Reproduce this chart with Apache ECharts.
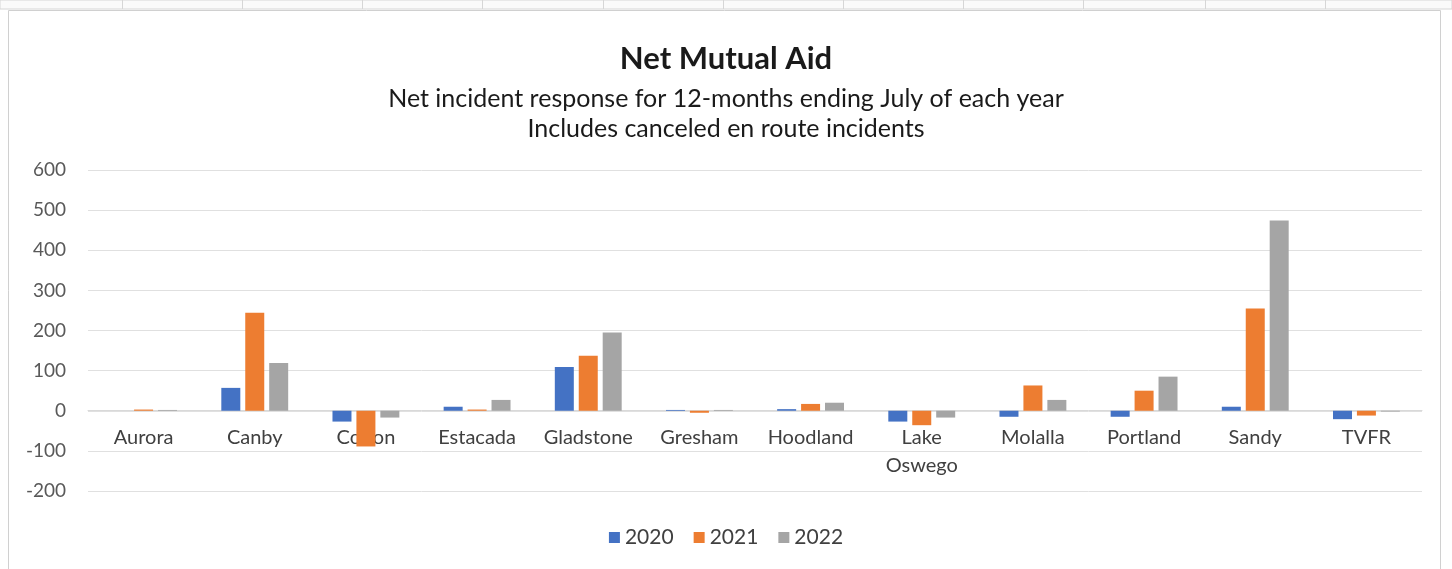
<!DOCTYPE html>
<html>
<head>
<meta charset="utf-8">
<script src="https://cdn.jsdelivr.net/npm/echarts@6/dist/echarts.min.js"></script>
<style>
	html, body { margin: 0; padding: 0; background: #fff; }
	#chart { width: 1452px; height: 569px; }
</style>
</head>
<body>
<div id="chart"></div>
<script>
const departments = [ 'Aurora', 'Canby', 'Colton', 'Estacada', 'Gladstone', 'Gresham',
	'Hoodland', 'Lake\nOswego', 'Molalla', 'Portland', 'Sandy', 'TVFR' ]
const years = [ '2020', '2021', '2022' ]
const net2020 = [ 0, 57, -27, 10, 109, 2, 4, -27, -15, -15, 10, -21 ]
const net2021 = [ 3, 244, -89, 3, 137, -5, 17, -36, 63, 50, 255, -12 ]
const net2022 = [ 2, 119, -17, 27, 195, 2, 20, -17, 27, 85, 474, -2 ]
const colors = [ '#4472C4', '#ED7D31', '#A5A5A5' ]

const font = 'Lato, "Open Sans", sans-serif'
const chart = echarts.init(document.getElementById('chart'))

// spreadsheet column separators behind the chart
const sheetCols = [ 122, 242, 362, 482, 603, 723, 843, 963, 1083, 1205, 1325 ]

chart.setOption({
	backgroundColor: '#fff',
	animation: false,
	color: colors,
	title: {
		text: 'Net Mutual Aid',
		subtext: 'Net incident response for 12-months ending July of each year\nIncludes canceled en route incidents',
		left: 'center',
		top: 38,
		itemGap: 10,
		textStyle: { fontFamily: font, fontSize: 31, fontWeight: 'bold', color: '#1a1a1a' },
		subtextStyle: { fontFamily: font, fontSize: 25, color: '#1a1a1a', lineHeight: 30 }
	},
	legend: {
		bottom: 16,
		left: 'center',
		itemWidth: 11,
		itemHeight: 11,
		itemGap: 20,
		icon: 'rect',
		textStyle: { fontFamily: font, fontSize: 21, color: '#404040' },
		data: years
	},
	grid: { left: 88, right: 30, top: 170, bottom: 78, containLabel: false },
	xAxis: {
		type: 'category',
		data: departments,
		offset: -81,
		axisTick: { show: false },
		axisLine: { lineStyle: { color: '#d9d9d9' } },
		axisLabel: { interval: 0, margin: 14, fontFamily: font, fontSize: 20, color: '#404040', lineHeight: 28 }
	},
	yAxis: {
		type: 'value',
		min: -200,
		max: 600,
		interval: 100,
		axisLine: { show: false },
		axisTick: { show: false },
		axisLabel: { margin: 22, fontFamily: font, fontSize: 19, color: '#595959' },
		splitLine: { lineStyle: { color: '#e0e0e0' } }
	},
	series: [ net2020, net2021, net2022 ].map((data, i) => ({
		name: years[i],
		type: 'bar',
		data,
		barWidth: 19,
		barGap: '26%'
	})),
	graphic: [
		{
			type: 'rect',
			shape: { x: 0, y: 0, width: 1452, height: 9 },
			style: { fill: '#fafafa', stroke: '#d6d6d6', lineWidth: 1 },
			silent: true
		},
		...sheetCols.map(x => ({
			type: 'line',
			shape: { x1: x + 0.5, y1: 0, x2: x + 0.5, y2: 9 },
			style: { stroke: '#d6d6d6', lineWidth: 1 },
			silent: true
		})),
		{
			type: 'rect',
			shape: { x: 8.5, y: 10.5, width: 1432, height: 570 },
			style: { fill: 'none', stroke: '#d0d0d0', lineWidth: 1 },
			silent: true
		}
	]
})
</script>
</body>
</html>
